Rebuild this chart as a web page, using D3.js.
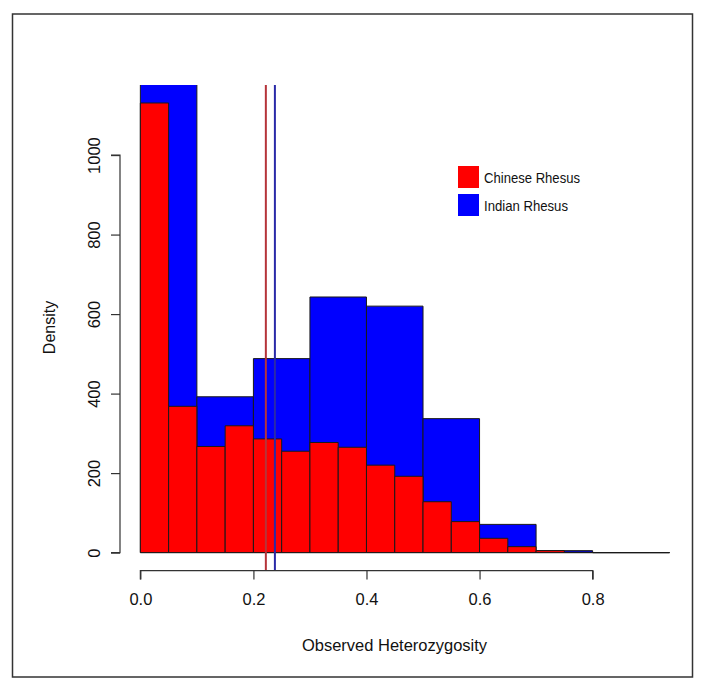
<!DOCTYPE html>
<html>
<head>
<meta charset="utf-8">
<script src="https://cdn.jsdelivr.net/npm/d3@7"></script>
<style>
  body { margin: 0; background: #fff; }
  svg text { font-family: "Liberation Sans", Arial, sans-serif; fill: #111; }
</style>
</head>
<body>
<svg id="chart" width="704" height="689"></svg>
<script>
// histogram bins
const chineseBreaks = [0, 0.05, 0.1, 0.15, 0.2, 0.25, 0.3, 0.35, 0.4, 0.45, 0.5,
                       0.55, 0.6, 0.65, 0.7, 0.75, 0.8, 0.85, 0.9, 0.95, 1.0];
const chineseDensity = [1131, 368, 267, 319, 286, 255, 277, 265, 220, 192,
                        128, 78, 36, 15, 5, 1, 0, 0, 0, 0];
const indianBreaks = [0, 0.1, 0.2, 0.3, 0.4, 0.5, 0.6, 0.7, 0.8, 0.9, 1.0];
const indianDensity = [1200, 392, 488, 643, 620, 337, 71, 5, 0, 0];

const meanLines = [
    { name: "Chinese Rhesus", value: 0.222, color: "#b5343a" },
    { name: "Indian Rhesus", value: 0.238, color: "#2a2aa8" }
];
const legendItems = [
    { name: "Chinese Rhesus", color: "#ff0000", width: 96 },
    { name: "Indian Rhesus", color: "#0000ff", width: 84 }
];
const xTicks = [0, 0.2, 0.4, 0.6, 0.8];
const yTicks = [0, 200, 400, 600, 800, 1000];

const svg = d3.select("#chart");

// plot region like R: xlim c(0, 0.9), ylim c(0, 1131), 4% padding
const x = d3.scaleLinear().domain([-0.036, 0.936]).range([120, 669.5]);
const y = d3.scaleLinear().domain([-45.24, 1176.24]).range([570.6, 85]);

svg.append("rect")
    .attr("x", 12.5).attr("y", 14)
    .attr("width", 680).attr("height", 663)
    .attr("fill", "none").attr("stroke", "#333").attr("stroke-width", 1.5);

svg.append("defs").append("clipPath").attr("id", "plot-clip")
    .append("rect")
    .attr("x", 120).attr("y", 85)
    .attr("width", 549.5).attr("height", 485.6);

const plot = svg.append("g").attr("clip-path", "url(#plot-clip)");

function binPath(breaks, i, v) {
    const x0 = x(breaks[i]), x1 = x(breaks[i + 1]);
    return `M${x0},${y(0)}V${y(v)}H${x1}V${y(0)}Z`;
}

function drawHist(breaks, values, color) {
    plot.append("g")
        .selectAll("path")
        .data(values)
        .enter().append("path")
        .attr("d", (d, i) => binPath(breaks, i, d))
        .attr("fill", color)
        .attr("stroke", "#1a1a1a")
        .attr("stroke-width", 1);
}

drawHist(indianBreaks, indianDensity, "#0000ff");
drawHist(chineseBreaks, chineseDensity, "#ff0000");

// mean lines
plot.append("g")
    .selectAll("line")
    .data(meanLines)
    .enter().append("line")
    .attr("x1", d => x(d.value)).attr("x2", d => x(d.value))
    .attr("y1", 85).attr("y2", 570.6)
    .attr("stroke", d => d.color)
    .attr("stroke-width", 2);

// x axis
const xAxis = svg.append("g").attr("transform", `translate(0,${570.6})`)
    .call(d3.axisBottom(x).tickValues(xTicks).tickSize(9).tickPadding(14)
        .tickFormat(d3.format(".1f")));
xAxis.select(".domain").attr("stroke", "#333").attr("stroke-width", 1.2)
    .attr("d", `M${x(0)},9V0H${x(0.8)}V9`);
xAxis.selectAll(".tick line").attr("stroke", "#333").attr("stroke-width", 1.2);
xAxis.selectAll(".tick text").attr("font-size", 16.5).attr("fill", "#111");

// y axis
const yAxis = svg.append("g").attr("transform", "translate(120,0)")
    .call(d3.axisLeft(y).tickValues(yTicks).tickSize(9).tickFormat(d3.format("d")));
yAxis.select(".domain").attr("d", `M-9,${y(0)}H0V${y(1000)}H-9`)
    .attr("stroke", "#333").attr("stroke-width", 1.2);
yAxis.selectAll(".tick line").attr("stroke", "#333").attr("stroke-width", 1.2);
yAxis.selectAll(".tick text")
    .attr("font-size", 16.5).attr("fill", "#111")
    .attr("x", null).attr("dy", null)
    .attr("text-anchor", "middle")
    .attr("transform", "translate(-20,0) rotate(-90)");

// axis titles
svg.append("text")
    .attr("x", 394.5).attr("y", 651)
    .attr("text-anchor", "middle")
    .attr("font-size", 16.5)
    .text("Observed Heterozygosity");

svg.append("text")
    .attr("transform", "translate(55,327.5) rotate(-90)")
    .attr("text-anchor", "middle")
    .attr("font-size", 16)
    .text("Density");

// legend
const legend = svg.append("g").attr("transform", "translate(458,166)");
const item = legend.selectAll("g")
    .data(legendItems)
    .enter().append("g")
    .attr("transform", (d, i) => `translate(0,${i * 28})`);
item.append("rect")
    .attr("width", 21).attr("height", 22)
    .attr("fill", d => d.color);
item.append("text")
    .attr("x", 26).attr("y", 16.5)
    .attr("font-size", 15)
    .attr("textLength", d => d.width)
    .attr("lengthAdjust", "spacingAndGlyphs")
    .text(d => d.name);
</script>
</body>
</html>
